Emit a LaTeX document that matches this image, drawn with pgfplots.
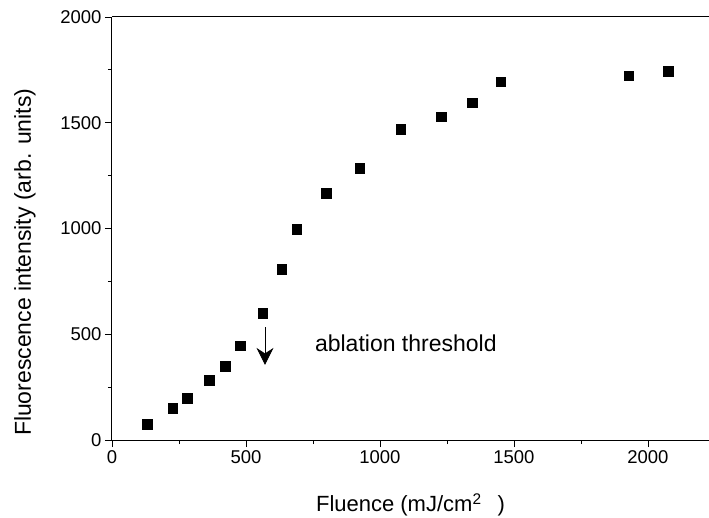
\documentclass[border=0pt]{standalone}
\usepackage{fontspec}
\setmainfont{Liberation Sans}
\usepackage{pgfplots}
\pgfplotsset{compat=1.18}
\usetikzlibrary{calc,arrows.meta}
\pgfplotstableread{
x y
131 76
226 150
280 199
362 284
423 350
478 446
562 599
633 808
690 998
799 1168
925 1286
1078 1470
1228 1529
1345 1595
1450 1694
1929 1722
2076 1745
}\datatable
\begin{document}
\begin{tikzpicture}
\begin{axis}[name=ax, scale only axis, width=597pt, height=423pt,
  xmin=0, xmax=2228, ymin=0, ymax=2000,
  axis x line*=box, axis y line*=left,
  tick pos=left,
  xtick={0,500,1000,1500,2000}, ytick={0,500,1000,1500,2000},
  minor xtick={250,750,1250,1750}, minor ytick={250,750,1250,1750},
  tick align=outside,
  major tick length=7pt, minor tick length=4pt,
  axis line style={line width=1pt},
  every tick/.style={black, line width=0.8pt},
  /pgf/number format/assume math mode=true,
  /pgf/number format/1000 sep={},
  tick label style={font=\fontsize{18.5}{21}\selectfont},
  xlabel={Fluence (mJ/cm\textsuperscript{2}\hspace{16pt})},
  ylabel={Fluorescence intensity (arb. units)},
  xlabel style={font=\fontsize{22}{25}\selectfont, at={(axis description cs:0.5,0)}, anchor=center, yshift=-65pt},
  ylabel style={font=\fontsize{23}{26}\selectfont, at={(axis description cs:-0.146,0.42)}, anchor=center},
  clip=false,
]
\addplot[only marks, mark=square*, mark size=4.8pt, black] table[x=x,y=y] {\datatable};
\draw[-{Stealth[length=17pt,width=17pt]}, line width=0.8pt] (axis cs:571,534) -- (axis cs:571,355);
\node[anchor=west, inner sep=0pt, font=\fontsize{23}{26}\selectfont] at (axis cs:757,459) {ablation threshold};
\end{axis}
\pgfresetboundingbox
\path ($(ax.south west)+(-112pt,-77pt)$) rectangle ($(ax.north east)+(0pt,17pt)$);
\end{tikzpicture}
\end{document}
